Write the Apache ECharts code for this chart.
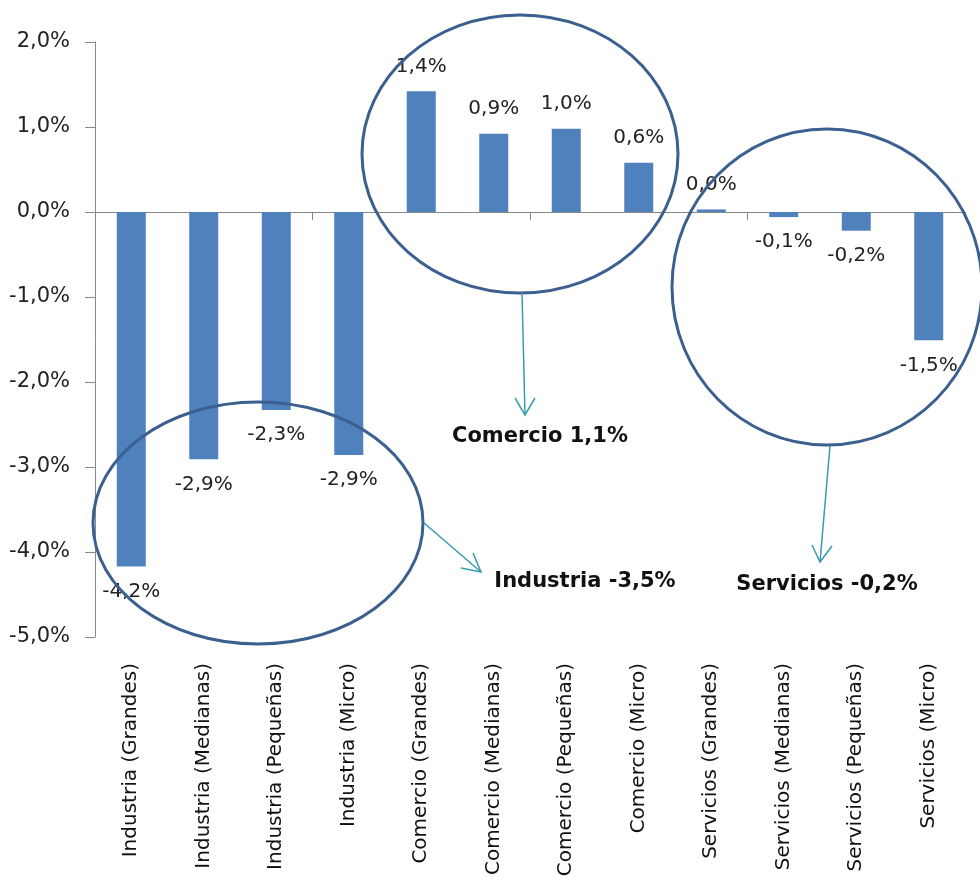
<!DOCTYPE html>
<html>
<head>
<meta charset="utf-8">
<script src="https://cdn.jsdelivr.net/npm/echarts@6/dist/echarts.min.js"></script>
<style>
  html, body { margin: 0; padding: 0; background: #fff; }
  #chart { width: 980px; height: 882px; }
</style>
</head>
<body>
<div id="chart"></div>
<script>
// categorias y valores (%)
var categories = [
  "Industria (Grandes)", "Industria (Medianas)", "Industria (Pequeñas)", "Industria (Micro)",
  "Comercio (Grandes)", "Comercio (Medianas)", "Comercio (Pequeñas)", "Comercio (Micro)",
  "Servicios (Grandes)", "Servicios (Medianas)", "Servicios (Pequeñas)", "Servicios (Micro)"
];
var values = [-4.17, -2.91, -2.33, -2.86, 1.42, 0.92, 0.98, 0.58, 0.03, -0.06, -0.22, -1.51];
var yTicks = [-5, -4, -3, -2, -1, 0, 1, 2];

var fontFam = "DejaVu Sans";
var ringColor = "#3b5f8f";
var arrowColor = "#3a9ab0";

function pct(v) {
  return v.toFixed(1).replace(".", ",") + "%";
}

var chart = echarts.init(document.getElementById("chart"));

var option = {
  animation: false,
  grid: { left: 95, right: 15, top: 42, bottom: 245 },
  xAxis: [
    {
      type: "category",
      data: categories,
      axisLine: { onZero: true, lineStyle: { color: "#888" } },
      axisTick: { show: true, length: 8, lineStyle: { color: "#888" } },
      axisLabel: { show: false }
    },
    {
      type: "category",
      data: categories,
      position: "bottom",
      axisLine: { show: false, onZero: false },
      axisTick: { show: false },
      axisLabel: {
        rotate: 90,
        interval: 0,
        margin: 26,
        fontFamily: fontFam,
        fontSize: 20,
        color: "#111"
      }
    }
  ],
  yAxis: {
    type: "value",
    min: yTicks[0],
    max: yTicks[yTicks.length - 1],
    interval: 1,
    splitLine: { show: false },
    axisLine: { show: true, lineStyle: { color: "#888" } },
    axisTick: { show: true, length: 10, lineStyle: { color: "#888" } },
    axisLabel: {
      margin: 25,
      fontFamily: fontFam,
      fontSize: 21,
      color: "#222",
      formatter: function (v) { return pct(v); }
    }
  },
  series: [
    {
      type: "bar",
      xAxisIndex: 0,
      barWidth: "40%",
      itemStyle: { color: "#4f81bd" },
      data: values.map(function (v) {
        return {
          value: v,
          label: { position: v >= 0 ? "top" : "bottom" }
        };
      }),
      label: {
        show: true,
        distance: 15,
        fontFamily: fontFam,
        fontSize: 20,
        color: "#222",
        formatter: function (p) { return pct(Math.round(p.value * 10) / 10); }
      }
    }
  ],
  graphic: [
    // elipses
    { type: "ellipse", z: 100, shape: { cx: 520, cy: 154, rx: 158, ry: 139 },
      style: { fill: "none", stroke: ringColor, lineWidth: 3 } },
    { type: "ellipse", z: 100, shape: { cx: 827, cy: 287, rx: 155, ry: 158 },
      style: { fill: "none", stroke: ringColor, lineWidth: 3 } },
    { type: "ellipse", z: 100, shape: { cx: 258, cy: 523, rx: 165, ry: 121 },
      style: { fill: "none", stroke: ringColor, lineWidth: 3 } },
    // flechas
    { type: "line", z: 100, shape: { x1: 522, y1: 293, x2: 525, y2: 415 },
      style: { stroke: arrowColor, lineWidth: 1.5 } },
    { type: "polyline", z: 100, shape: { points: [[515, 398], [525, 415], [535, 398]] },
      style: { fill: "none", stroke: arrowColor, lineWidth: 1.5 } },
    { type: "line", z: 100, shape: { x1: 830, y1: 446, x2: 820, y2: 562 },
      style: { stroke: arrowColor, lineWidth: 1.5 } },
    { type: "polyline", z: 100, shape: { points: [[812, 545], [820, 562], [832, 546]] },
      style: { fill: "none", stroke: arrowColor, lineWidth: 1.5 } },
    { type: "line", z: 100, shape: { x1: 424, y1: 523, x2: 481, y2: 572 },
      style: { stroke: arrowColor, lineWidth: 1.5 } },
    { type: "polyline", z: 100, shape: { points: [[461, 568], [481, 572], [473, 553]] },
      style: { fill: "none", stroke: arrowColor, lineWidth: 1.5 } },
    // textos
    { type: "text", z: 100, x: 540, y: 437,
      style: { text: "Comercio 1,1%", fontFamily: fontFam, fontWeight: "bold", fontSize: 21,
               fill: "#111", align: "center", verticalAlign: "middle" } },
    { type: "text", z: 100, x: 585, y: 582,
      style: { text: "Industria -3,5%", fontFamily: fontFam, fontWeight: "bold", fontSize: 21,
               fill: "#111", align: "center", verticalAlign: "middle" } },
    { type: "text", z: 100, x: 827, y: 585,
      style: { text: "Servicios -0,2%", fontFamily: fontFam, fontWeight: "bold", fontSize: 21,
               fill: "#111", align: "center", verticalAlign: "middle" } }
  ]
};

chart.setOption(option);
window.onresize = function () {
  chart.resize();
};
</script>
</body>
</html>
